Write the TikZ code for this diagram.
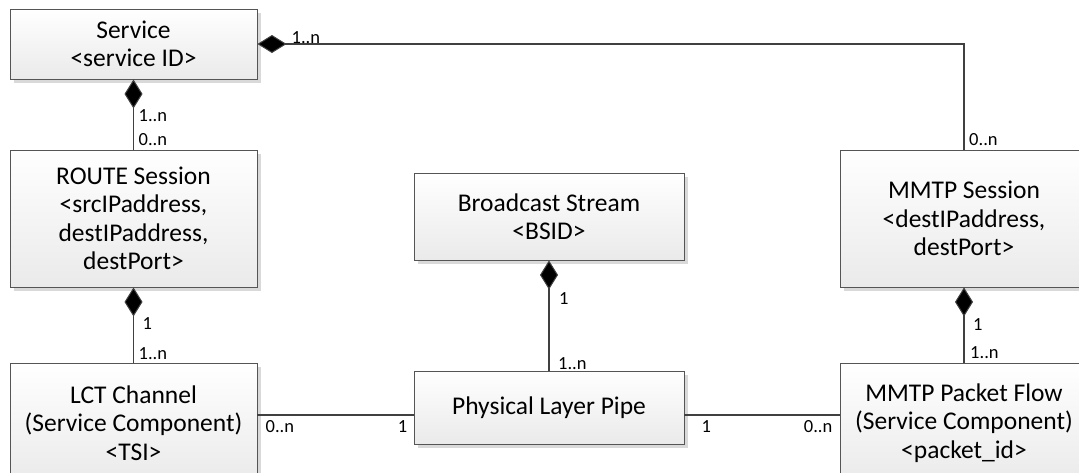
\documentclass[tikz,border=0pt]{standalone}
\usepackage{fontspec}
\setmainfont{Carlito}
\usetikzlibrary{arrows.meta,shadows,calc}
\definecolor{boxline}{HTML}{555555}
\definecolor{linkgray}{HTML}{404040}
\definecolor{boxshade}{HTML}{EAEAEA}
\definecolor{shadowgray}{HTML}{D9D9D9}

\tikzset{
  entity/.style={draw=boxline, line width=0.9pt, top color=white, bottom color=boxshade,
    align=center, inner sep=0pt, font=\fontsize{25.5}{28.5}\selectfont,
    drop shadow={shadow xshift=4pt, shadow yshift=-4pt, fill=shadowgray, opacity=1}},
  link/.style={draw=linkgray, line width=1.8pt},
  owns/.style={link, arrows={Diamond[length=29pt,width=18pt,fill=black,line width=1pt]-}},
  mult/.style={inner sep=0pt, font=\fontsize{18.5}{20}\selectfont}
}

\begin{document}
\begin{tikzpicture}[x=1pt, y=-1pt]
    \useasboundingbox (0,0) rectangle (1079,472);
    \fill[white] (0,0) rectangle (1079,472);
    \clip (0,0) rectangle (1079,472);

    % left column
    \node[entity, minimum width=247pt, minimum height=70pt] (service) at (133.5,44) {Service\\<service ID>};
    \node[entity, minimum width=247pt, minimum height=137pt] (route) at (133.5,218.5) {ROUTE Session\\<srcIPaddress,\\destIPaddress,\\destPort>};
    \node[entity, minimum width=247pt, minimum height=120pt] (lct) at (133.5,423) {LCT Channel\\(Service Component)\\<TSI>};

    % middle column
    \node[entity, minimum width=270pt, minimum height=87pt] (bstream) at (549,216.5) {Broadcast Stream\\<BSID>};
    \node[entity, minimum width=270pt, minimum height=73pt] (plp) at (549,407.5) {Physical Layer Pipe};

    % right column
    \node[entity, minimum width=248pt, minimum height=137pt] (mmtpsess) at (964,218.5) {MMTP Session\\<destIPaddress,\\destPort>};
    \node[entity, minimum width=248pt, minimum height=120pt] (flow) at (964,423) {MMTP Packet Flow\\(Service Component)\\<packet\_id>};

    % compositions
    \draw[owns] (service.south) -- (route.north);
    \draw[owns] (service.east) -| (mmtpsess.north);
    \draw[owns] (route.south) -- (lct.north);
    \draw[owns] (bstream.south) -- (plp.north);
    \draw[owns] (mmtpsess.south) -- (flow.north);

    % associations with the pipe
    \coordinate (pipeline) at (0,415);
    \draw[link] (lct.east |- pipeline) -- (plp.west |- pipeline);
    \draw[link] (plp.east |- pipeline) -- (flow.west |- pipeline);

    % multiplicities
    \node[mult, anchor=base west] (svcmmtp) at ($(service.east)+(34,-1)$) {1..n};
    \node[mult, anchor=base west] (mmtpsvc) at ($(mmtpsess.north)+(5,-4)$) {0..n};
    \node[mult, anchor=base west] (svcroute) at ($(service.south)+(5,42)$) {1..n};
    \node[mult, anchor=base west] (routesvc) at ($(route.north)+(5,-4)$) {0..n};
    \node[mult, anchor=base west] (routelct) at ($(route.south)+(9,42)$) {1};
    \node[mult, anchor=base west] (lctroute) at ($(lct.north)+(5,-3)$) {1..n};
    \node[mult, anchor=base west] (bsplp) at ($(bstream.south)+(10,44)$) {1};
    \node[mult, anchor=base west] (plpbs) at ($(plp.north)+(9,-1)$) {1..n};
    \node[mult, anchor=base west] (sessflow) at ($(mmtpsess.south)+(9,43)$) {1};
    \node[mult, anchor=base west] (flowsess) at ($(flow.north)+(6,-4)$) {1..n};
    \node[mult, anchor=base west] (lctplp) at ($(lct.east |- pipeline)+(8,17)$) {0..n};
    \node[mult, anchor=base east] (plplct) at ($(plp.west |- pipeline)+(-6,17)$) {1};
    \node[mult, anchor=base west] (plpflow) at ($(plp.east |- pipeline)+(17,17)$) {1};
    \node[mult, anchor=base east] (flowplp) at ($(flow.west |- pipeline)+(-7,17)$) {0..n};
\end{tikzpicture}
\end{document}
